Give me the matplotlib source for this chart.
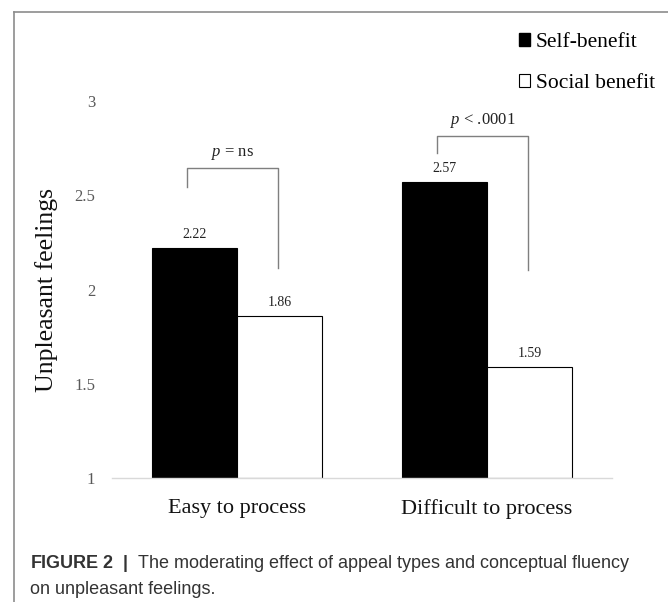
import numpy as np
import matplotlib
matplotlib.use('Agg')
import matplotlib.pyplot as plt
from matplotlib.lines import Line2D
from matplotlib.patches import Patch

# ---- data
groups = ['Easy to process', 'Difficult to process']
series = ['Self-benefit', 'Social benefit']
self_benefit = [2.22, 2.57]
social_benefit = [1.86, 1.59]
p_labels = ['= ns', '< .0001']
yticks = [1, 1.5, 2, 2.5, 3]

serif = 'Liberation Serif'
plt.rcParams['mathtext.fontset'] = 'custom'
plt.rcParams['mathtext.it'] = 'Liberation Serif:italic'
plt.rcParams['mathtext.rm'] = 'Liberation Serif'
plt.rcParams['mathtext.bf'] = 'Liberation Sans:bold'

fig = plt.figure(figsize=(6.68, 6.02), dpi=100)
ax = fig.add_axes([112/668., 124/602., 500/668., 377/602.])

x = np.arange(len(groups))
w = 0.34
b1 = ax.bar(x - w/2, np.array(self_benefit) - 1, w, bottom=1, color='black', edgecolor='black', lw=0.8)
b2 = ax.bar(x + w/2, np.array(social_benefit) - 1, w, bottom=1, color='white', edgecolor='black', lw=0.8)

# value labels
for xs, vals in ((x - w/2, self_benefit), (x + w/2, social_benefit)):
    for xi, v in zip(xs, vals):
        ax.text(xi, v + 0.035, '%.2f' % v, ha='center', va='bottom', fontsize=10, family=serif, color='#222222')

# significance brackets (start, top, right end, text y)
brk = [(2.545, 2.645, 2.115, 2.675), (2.725, 2.815, 2.105, 2.845)]
for i, (y0, ytop, y1, ty) in enumerate(brk):
    xl = x[i] - w/2 - 0.03
    xr = x[i] + w/2 - 0.005
    ax.plot([xl, xl, xr, xr], [y0, ytop, ytop, y1], color='#7f7f7f', lw=1.0, clip_on=False)
    ax.text((xl + xr)/2, ty, r'$\it{p}$ ' + p_labels[i], ha='center', va='bottom',
            fontsize=12, family=serif, color='#222222')

ax.set_xlim(-0.5, 1.5)
ax.set_ylim(1, 3)
ax.set_yticks(yticks)
ax.set_yticklabels(['%g' % t for t in yticks], family=serif, fontsize=12, color='#595959')
ax.set_xticks(x)
ax.set_xticklabels(groups, family=serif, fontsize=16, color='#111111')
ax.tick_params(axis='both', length=0)
ax.tick_params(axis='y', pad=12)
ax.tick_params(axis='x', pad=15)
for s in ['top', 'right', 'left']:
    ax.spines[s].set_visible(False)
ax.spines['bottom'].set_color('#d9d9d9')
ax.spines['bottom'].set_linewidth(1.0)
ax.set_ylabel('Unpleasant feelings', family=serif, fontsize=18.5, color='#111111')
ax.yaxis.set_label_coords(-0.108, 0.5)

handles = [Patch(facecolor='black', edgecolor='black'),
           Patch(facecolor='white', edgecolor='black', lw=0.8)]
leg = fig.legend(handles, series, loc='upper left', bbox_to_anchor=(510/668., 1 - 24/602.),
                 frameon=False, prop={'family': serif, 'size': 15.5}, handlelength=0.55,
                 handleheight=0.55, handletextpad=0.25, labelspacing=1.05, borderaxespad=0)

# figure frame (left and top)
fig.add_artist(Line2D([14/668., 14/668.], [0, 1 - 12/602.], color='#8c8c8c', lw=1.2))
fig.add_artist(Line2D([14/668., 1], [1 - 12/602., 1 - 12/602.], color='#8c8c8c', lw=1.2))

# caption
fig.text(30/668., 1 - 564/602., r'$\bf{FIGURE\ 2}$  $\bf{|}$  The moderating effect of appeal types and conceptual fluency',
         family='Liberation Sans', fontsize=13, color='#333333', va='center')
fig.text(30/668., 1 - 589/602., 'on unpleasant feelings.', family='Liberation Sans',
         fontsize=13, color='#333333', va='center')

fig.savefig('out.png', dpi=100)
